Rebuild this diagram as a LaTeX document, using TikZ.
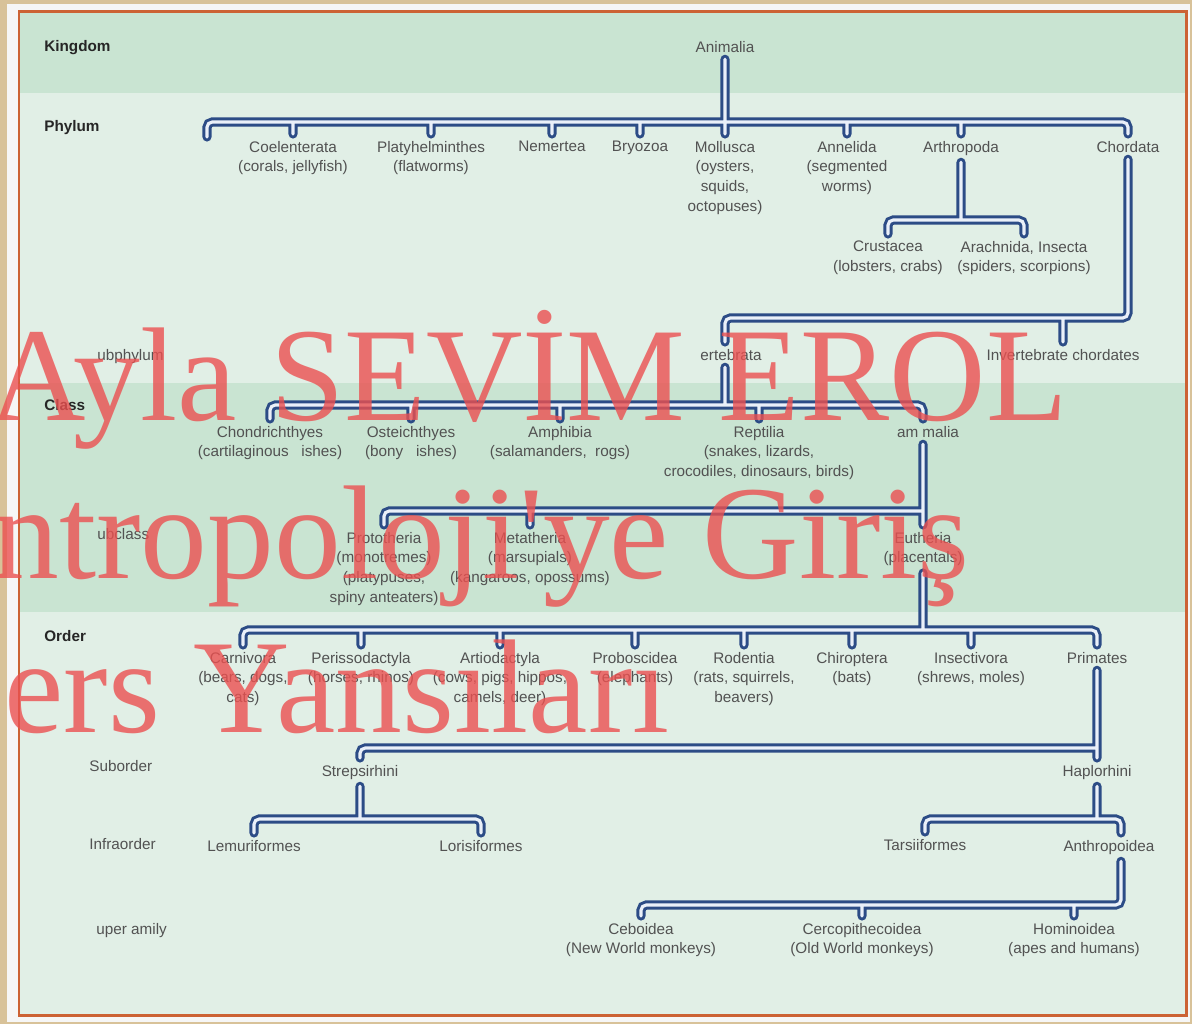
\documentclass[tikz,border=0pt]{standalone}
\usepackage{fontspec}
\setmainfont{Liberation Sans}
\newfontfamily\markfont{Liberation Serif}
\definecolor{parch}{RGB}{216,194,153}
\definecolor{panel}{RGB}{225,239,230}
\definecolor{band}{RGB}{201,228,210}
\definecolor{frame}{RGB}{204,98,52}
\definecolor{linkblue}{RGB}{44,76,134}
\definecolor{linkcore}{RGB}{234,240,249}
\definecolor{taxtext}{RGB}{82,82,82}
\definecolor{marktext}{RGB}{235,80,80}
\begin{document}
\begin{tikzpicture}[
        x=0.02cm, y=-0.02cm,
        taxon/.style = {anchor=north, align=center, inner sep=1pt, outer sep=3pt,
                        text=taxtext, font=\fontsize{8.7}{11.2}\selectfont},
        rank/.style = {anchor=base west, inner sep=0pt, text=black!68,
                       font=\fontsize{8.7}{11.2}\selectfont},
        mainrank/.style = {rank, text=black!85, font=\fontsize{8.7}{11.2}\selectfont\bfseries},
        link/.style = {draw=linkblue, double=linkcore, line width=1.7pt,
                       double distance=1.8pt, line cap=round, rounded corners=3pt},
        wmark/.style = {anchor=base east, inner sep=0pt, text=marktext, text opacity=0.8,
                        font=\markfont\fontsize{76}{76}\selectfont}
    ]
    \useasboundingbox (0,0) rectangle (1192,1024);
    % background and panel
    \fill[parch] (0,0) rectangle (1192,1024);
    \fill[white!93!gray] (7,4) rectangle (1190,1022);
    \fill[panel] (19,11.5) rectangle (1186,1015.5);
    \fill[band] (19,11.5) rectangle (1186,93);
    \fill[band] (19,383) rectangle (1186,612);
    \draw[frame, line width=1.7pt] (19,11.5) rectangle (1186,1015.5);

    % rank labels
    \node (kingdom) [mainrank] at (44,52)  {Kingdom};
    \node (phylum)  [mainrank] at (44,132) {Phylum};
    \node (subphy)  [rank]     at (97,360) {ubphylum};
    \node (class)   [mainrank] at (44,410) {Class};
    \node (subcl)   [rank]     at (97,539) {ubclass};
    \node (order)   [mainrank] at (44,641) {Order};
    \node (subord)  [rank]     at (89,771) {Suborder};
    \node (infra)   [rank]     at (89,849) {Infraorder};
    \node (superf)  [rank]     at (96,934) {uper amily};

    % bar heights
    \coordinate (phybar)  at (0,122);
    \coordinate (arbar)   at (0,220);
    \coordinate (chbar)   at (0,318);
    \coordinate (clbar)   at (0,405);
    \coordinate (subbar)  at (0,511);
    \coordinate (ordbar)  at (0,630);
    \coordinate (subobar) at (0,748);
    \coordinate (infbar)  at (0,819);
    \coordinate (sfbar)   at (0,905);
    \coordinate (phyend)  at (207,137);
    \coordinate (vertx)   at (725,0);
    \coordinate (anthx)   at (1121,0);

    % kingdom
    \node (anim)   [taxon] at (725,34)   {Animalia};
    % phylum
    \node (coel)   [taxon] at (293,134)  {Coelenterata\\(corals, jellyfish)};
    \node (platy)  [taxon] at (431,134)  {Platyhelminthes\\(flatworms)};
    \node (nem)    [taxon] at (552,134)  {Nemertea};
    \node (bryo)   [taxon] at (640,134)  {Bryozoa};
    \node (moll)   [taxon] at (725,134)  {Mollusca\\(oysters,\\squids,\\octopuses)};
    \node (anne)   [taxon] at (847,134)  {Annelida\\(segmented\\worms)};
    \node (arth)   [taxon] at (961,134)  {Arthropoda};
    \node (chord)  [taxon] at (1128,134) {Chordata};
    %
    \node (crus)   [taxon] at (888,234)  {Crustacea\\(lobsters, crabs)};
    \node (arach)  [taxon] at (1024,234) {Arachnida, Insecta\\(spiders, scorpions)};
    % subphylum
    \node (vert)   [taxon] at (731,342)  {ertebrata};
    \node (invert) [taxon] at (1063,342) {Invertebrate chordates};
    % class
    \node (chon)   [taxon] at (270,419)  {Chondrichthyes\\(cartilaginous~~~ishes)};
    \node (ost)    [taxon] at (411,419)  {Osteichthyes\\(bony~~~ishes)};
    \node (amph)   [taxon] at (560,419)  {Amphibia\\(salamanders,~~rogs)};
    \node (rept)   [taxon] at (759,419)  {Reptilia\\(snakes, lizards,\\crocodiles, dinosaurs, birds)};
    \node (mamm)   [taxon] at (928,419)  {am malia};
    % subclass
    \node (proto)  [taxon] at (384,525)  {Prototheria\\(monotremes)\\(platypuses,\\spiny anteaters)};
    \node (meta)   [taxon] at (530,525)  {Metatheria\\(marsupials)\\(kangaroos, opossums)};
    \node (euth)   [taxon] at (923,525)  {Eutheria\\(placentals)};
    % order
    \node (carn)   [taxon] at (243,645)  {Carnivora\\(bears, dogs,\\cats)};
    \node (peri)   [taxon] at (361,645)  {Perissodactyla\\(horses, rhinos)};
    \node (artio)  [taxon] at (500,645)  {Artiodactyla\\(cows, pigs, hippos,\\camels, deer)};
    \node (probo)  [taxon] at (635,645)  {Proboscidea\\(elephants)};
    \node (rod)    [taxon] at (744,645)  {Rodentia\\(rats, squirrels,\\beavers)};
    \node (chir)   [taxon] at (852,645)  {Chiroptera\\(bats)};
    \node (insec)  [taxon] at (971,645)  {Insectivora\\(shrews, moles)};
    \node (prim)   [taxon] at (1097,645) {Primates};
    % suborder
    \node (streps) [taxon] at (360,758)  {Strepsirhini};
    \node (hapl)   [taxon] at (1097,758) {Haplorhini};
    % infraorder
    \node (lemur)  [taxon] at (254,833)  {Lemuriformes};
    \node (loris)  [taxon] at (481,833)  {Lorisiformes};
    \node (tars)   [taxon] at (925,832)  {Tarsiiformes};
    \node (anthro) [taxon] at (1109,833) {Anthropoidea};
    % superfamily
    \node (cebo)   [taxon] at (641,916)  {Ceboidea\\(New World monkeys)};
    \node (cerco)  [taxon] at (862,916)  {Cercopithecoidea\\(Old World monkeys)};
    \node (homi)   [taxon] at (1074,916) {Hominoidea\\(apes and humans)};

    % connectors
    \draw[link]
        (anim.south) -- (moll.north)
        (phyend) -- (phyend |- phybar) -- (chord.north |- phybar) -- (chord.north)
        (coel.north) -- (coel.north |- phybar)
        (platy.north) -- (platy.north |- phybar)
        (nem.north) -- (nem.north |- phybar)
        (bryo.north) -- (bryo.north |- phybar)
        (anne.north) -- (anne.north |- phybar)
        (arth.north) -- (arth.north |- phybar)
        %
        (arth.south) -- (arth.south |- arbar)
        (crus.north) -- (crus.north |- arbar) -- (arach.north |- arbar) -- (arach.north)
        %
        (chord.south) -- (chord.south |- chbar) -- (vertx |- chbar) -- (vertx |- vert.north)
        (invert.north) -- (invert.north |- chbar)
        %
        (vertx |- vert.south) -- (vertx |- clbar)
        (chon.north) -- (chon.north |- clbar) -- (euth.north |- clbar) -- (euth.north |- mamm.north)
        (ost.north) -- (ost.north |- clbar)
        (amph.north) -- (amph.north |- clbar)
        (rept.north) -- (rept.north |- clbar)
        %
        (euth.north |- mamm.south) -- (euth.north)
        (proto.north) -- (proto.north |- subbar) -- (euth.north |- subbar)
        (meta.north) -- (meta.north |- subbar)
        %
        (euth.south) -- (euth.south |- ordbar)
        (carn.north) -- (carn.north |- ordbar) -- (prim.north |- ordbar) -- (prim.north)
        (peri.north) -- (peri.north |- ordbar)
        (artio.north) -- (artio.north |- ordbar)
        (probo.north) -- (probo.north |- ordbar)
        (rod.north) -- (rod.north |- ordbar)
        (chir.north) -- (chir.north |- ordbar)
        (insec.north) -- (insec.north |- ordbar)
        %
        (prim.south) -- (hapl.north)
        (streps.north) -- (streps.north |- subobar) -- (prim.south |- subobar)
        %
        (streps.south) -- (streps.south |- infbar)
        (lemur.north) -- (lemur.north |- infbar) -- (loris.north |- infbar) -- (loris.north)
        (hapl.south) -- (hapl.south |- infbar)
        (tars.north) -- (tars.north |- infbar) -- (anthx |- infbar) -- (anthx |- anthro.north)
        %
        (anthx |- anthro.south) -- (anthx |- sfbar) -- (cebo.north |- sfbar) -- (cebo.north)
        (cerco.north) -- (cerco.north |- sfbar)
        (homi.north) -- (homi.north |- sfbar);

    % watermark
    \begin{scope}
        \clip (0,0) rectangle (1192,1024);
        \node (mark1) [wmark] at (1068,420) {Ayla SEVİM EROL};
        \node (mark2) [wmark] at (970,578)  {Antropoloji\char"27 ye Giriş};
        \node (mark3) [wmark] at (670,732)  {Ders Yansıları};
    \end{scope}
\end{tikzpicture}
\end{document}
